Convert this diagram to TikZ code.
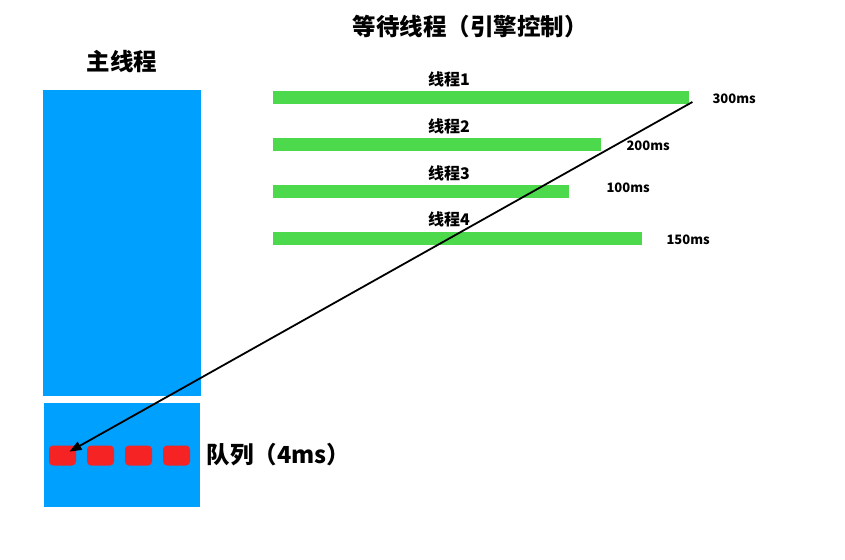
\documentclass[tikz,border=0pt]{standalone}
\usepackage{fontspec}
\setmainfont{Noto Sans CJK SC}
\usepackage{tikz}
\usetikzlibrary{positioning, arrows.meta}

\definecolor{mainblue}{HTML}{00A0FF}
\definecolor{bargreen}{HTML}{4CD94C}
\definecolor{taskred}{HTML}{F52323}

\tikzset{
    block/.style = {fill=mainblue, inner sep=0, anchor=north west},
    bar/.style = {fill=bargreen, inner sep=0, anchor=north west, minimum height=13pt},
    task/.style = {fill=taskred, rounded corners=4pt, inner sep=0, minimum width=27pt, minimum height=20pt},
    heading/.style = {font=\bfseries\fontsize{23.5}{26}\selectfont},
    label/.style = {font=\bfseries\fontsize{16}{18}\selectfont},
    time/.style = {font=\bfseries\fontsize{13}{15}\selectfont, anchor=west},
}

\begin{document}
\begin{tikzpicture}[x=1pt, y=-1pt]
    \useasboundingbox (0, 0) rectangle (845, 559);

    \node [heading] (title) at (470, 27) {等待线程（引擎控制）};
    \node [heading] (maintitle) at (122, 62) {主线程};

    \node [block, minimum width=158pt, minimum height=306pt] (main) at (43, 90) {};
    \node [block, minimum width=156pt, minimum height=104pt] (queue) at (44, 403) {};

    \node [task] (q1) at (62.5, 455.5) {};
    \node [task] (q2) at (100.5, 455.5) {};
    \node [task] (q3) at (138.5, 455.5) {};
    \node [task] (q4) at (176.5, 455.5) {};
    \node [heading, anchor=west] (qlabel) at (203, 455) {队列（4ms）};

    \node [bar, minimum width=416pt] (bar1) at (273, 91) {};
    \node [bar, minimum width=328pt] (bar2) at (273, 138) {};
    \node [bar, minimum width=296pt] (bar3) at (273, 185) {};
    \node [bar, minimum width=369pt] (bar4) at (273, 232) {};

    \node [label] (l1) at (449, 79) {线程1};
    \node [label] (l2) at (449, 126) {线程2};
    \node [label] (l3) at (449, 173) {线程3};
    \node [label] (l4) at (449, 219) {线程4};

    \node [time] (t1) at (709, 99) {300ms};
    \node [time] (t2) at (623, 146) {200ms};
    \node [time] (t3) at (603, 188) {100ms};
    \node [time] (t4) at (663, 240) {150ms};

    \draw [line width=1.8pt, -{Triangle[length=12pt, width=9pt]}, shorten >=8pt] ([shift={(3, 11)}]bar1.north east) -- (q1.center);
\end{tikzpicture}
\end{document}
